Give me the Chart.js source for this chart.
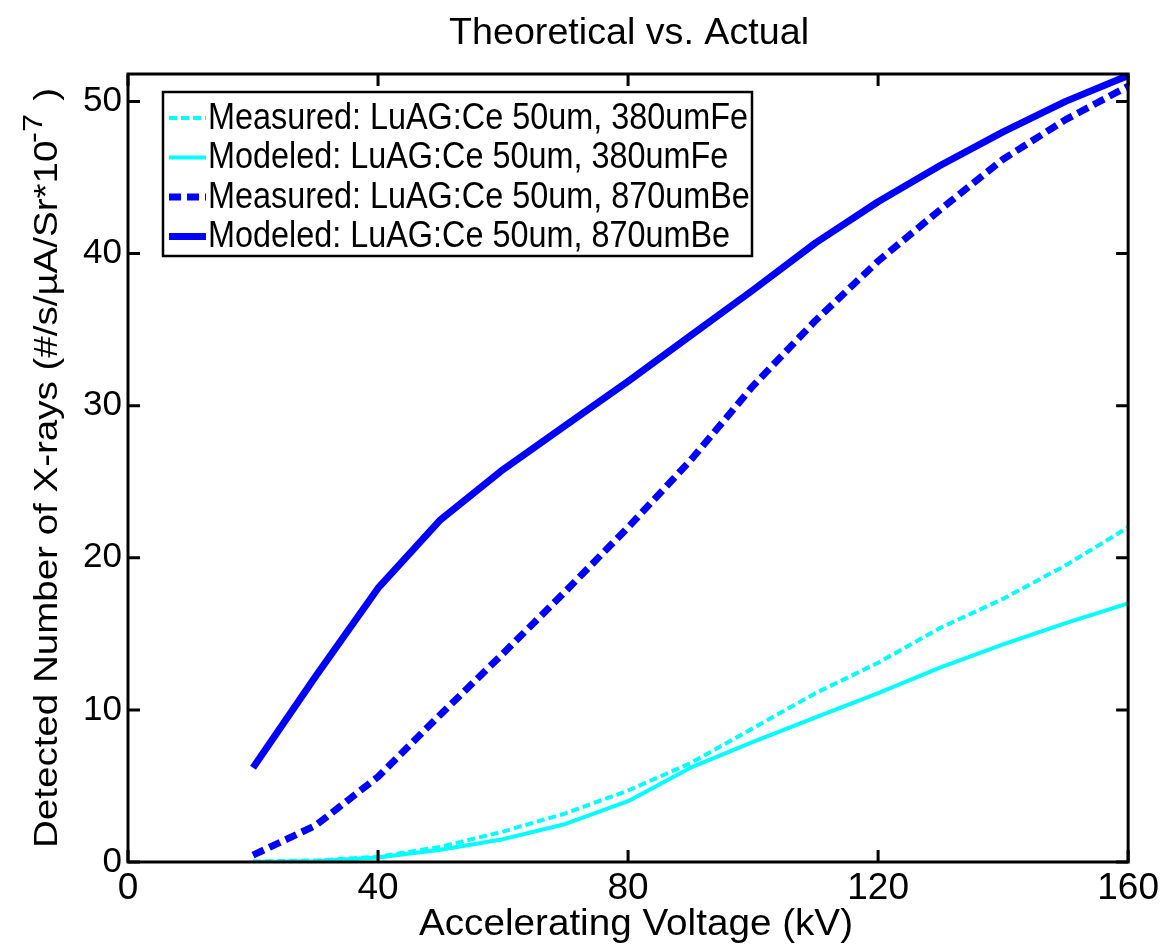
<!DOCTYPE html>
<html><head><meta charset="utf-8">
<script src="https://cdn.jsdelivr.net/npm/chart.js@4"></script>
<style>html,body{margin:0;padding:0;background:#fff;}canvas{display:block;}</style>
</head><body>
<canvas id="c" width="1164" height="947"></canvas>
<script>
// ---- data ----
const voltages   = [20, 30, 40, 50, 60, 70, 80, 90, 100, 110, 120, 130, 140, 150, 160];
const measuredFe = [0.03, 0.1, 0.35, 1.0, 2.0, 3.2, 4.7, 6.5, 8.8, 11.1, 13.1, 15.4, 17.3, 19.5, 22.0];
const modeledFe  = [0.0, 0.05, 0.3, 0.8, 1.5, 2.5, 4.0, 6.2, 7.9, 9.5, 11.1, 12.8, 14.3, 15.7, 17.0];
const measuredBe = [0.45, 2.4, 5.6, 9.7, 13.7, 17.8, 22.0, 26.4, 31.3, 35.6, 39.5, 42.9, 46.2, 48.8, 51.0];
const modeledBe  = [6.2, 12.2, 18.0, 22.5, 25.8, 28.7, 31.6, 34.6, 37.6, 40.7, 43.4, 45.8, 48.0, 50.0, 51.7];
const seriesLabels = [
  'Measured: LuAG:Ce 50um, 380umFe',
  'Modeled: LuAG:Ce 50um, 380umFe',
  'Measured: LuAG:Ce 50um, 870umBe',
  'Modeled: LuAG:Ce 50um, 870umBe'
];
const xTickValues = [0, 40, 80, 120, 160];
const yTickValues = [0, 10, 20, 30, 40, 50];
const titleText = 'Theoretical vs. Actual';
const xTitleText = 'Accelerating Voltage (kV)';
const yTitleMain = 'Detected Number of X-rays (#/s/\u00B5A/Sr*10';
const yTitleSup = '-7';
const yTitleTail = ' )';

const toPts = arr => voltages.map((v, i) => ({x: v, y: arr[i]}));

const CYAN = '#00FFFF', BLUE = '#0000FF';
const datasets = [
  {label: seriesLabels[0], data: toPts(measuredFe), borderColor: CYAN, borderWidth: 4, borderDash: [8, 4]},
  {label: seriesLabels[1], data: toPts(modeledFe),  borderColor: CYAN, borderWidth: 4, borderDash: []},
  {label: seriesLabels[2], data: toPts(measuredBe), borderColor: BLUE, borderWidth: 7, borderDash: [12, 6]},
  {label: seriesLabels[3], data: toPts(modeledBe),  borderColor: BLUE, borderWidth: 7, borderDash: []}
].map(d => Object.assign(d, {pointRadius: 0, tension: 0, fill: false, borderCapStyle: 'butt', borderJoinStyle: 'round'}));

const FONT = '"Liberation Sans", Arial, sans-serif';

function drawFitted(ctx, text, cx, baseline, size, targetW) {
  ctx.save();
  ctx.font = size + 'px ' + FONT;
  const w = ctx.measureText(text).width;
  ctx.translate(cx, baseline);
  ctx.scale(targetW / w, 1);
  ctx.textAlign = 'center';
  ctx.textBaseline = 'alphabetic';
  ctx.fillStyle = '#000';
  ctx.fillText(text, 0, 0);
  ctx.restore();
}

const decor = {
  id: 'decor',
  afterDraw(chart) {
    const {ctx, chartArea: a, scales: {x, y}} = chart;
    ctx.save();
    // axes box
    ctx.strokeStyle = '#000';
    ctx.lineWidth = 3;
    ctx.strokeRect(a.left, a.top, a.right - a.left, a.bottom - a.top);
    // inward tick marks on all four sides
    const tl = 12;
    ctx.beginPath();
    x.ticks.forEach(t => {
      const px = x.getPixelForValue(t.value);
      ctx.moveTo(px, a.bottom); ctx.lineTo(px, a.bottom - tl);
      ctx.moveTo(px, a.top); ctx.lineTo(px, a.top + tl);
    });
    y.ticks.forEach(t => {
      const py = y.getPixelForValue(t.value);
      ctx.moveTo(a.left, py); ctx.lineTo(a.left + tl, py);
      ctx.moveTo(a.right, py); ctx.lineTo(a.right - tl, py);
    });
    ctx.stroke();

    // title and x title
    drawFitted(ctx, titleText, 629, 44, 36, 360);
    drawFitted(ctx, xTitleText, 636, 935, 36, 434);

    // y title (rotated, with superscript)
    ctx.save();
    ctx.translate(57, 468);
    ctx.rotate(-Math.PI / 2);
    ctx.fillStyle = '#000';
    ctx.textBaseline = 'alphabetic';
    ctx.textAlign = 'left';
    const f1 = '33px ' + FONT;
    const f2 = '28px ' + FONT;
    ctx.font = f1; const w1 = ctx.measureText(yTitleMain).width; const w3 = ctx.measureText(yTitleTail).width;
    ctx.font = f2; const w2 = ctx.measureText(yTitleSup).width;
    const total = w1 + w2 + w3;
    ctx.scale(760 / total, 1);
    let x0 = -total / 2;
    ctx.font = f1; ctx.fillText(yTitleMain, x0, 0);
    ctx.font = f2; ctx.fillText(yTitleSup, x0 + w1 - 2, -15);
    ctx.font = f1; ctx.fillText(yTitleTail, x0 + w1 + w2, 0);
    ctx.restore();

    // legend
    const L = 163, T = 92, R = 752, B = 256;
    ctx.fillStyle = '#fff';
    ctx.fillRect(L, T, R - L, B - T);
    ctx.lineWidth = 2.5;
    ctx.strokeStyle = '#000';
    ctx.strokeRect(L, T, R - L, B - T);
    ctx.font = '36px ' + FONT;
    const legScale = 540 / ctx.measureText(chart.data.datasets[0].label).width;
    chart.data.datasets.forEach((d, i) => {
      const ry = 118 + i * 39.5;
      ctx.save();
      ctx.strokeStyle = d.borderColor;
      ctx.lineWidth = d.borderWidth;
      ctx.setLineDash(d.borderDash || []);
      ctx.beginPath();
      ctx.moveTo(169, ry); ctx.lineTo(206, ry);
      ctx.stroke();
      ctx.restore();
      ctx.save();
      ctx.translate(208, ry + 1);
      ctx.scale(legScale, 1);
      ctx.fillStyle = '#000';
      ctx.font = '36px ' + FONT;
      ctx.textAlign = 'left';
      ctx.textBaseline = 'middle';
      ctx.fillText(d.label, 0, 0);
      ctx.restore();
    });
    ctx.restore();
  }
};

new Chart(document.getElementById('c'), {
  type: 'line',
  data: {datasets},
  plugins: [decor],
  options: {
    responsive: false,
    animation: false,
    layout: {padding: {top: 74, right: 33, left: 0, bottom: 0}},
    plugins: {legend: {display: false}, title: {display: false}, tooltip: {enabled: false}},
    scales: {
      x: {
        type: 'linear', min: 0, max: 160,
        afterBuildTicks: s => { s.ticks = xTickValues.map(v => ({value: v})); },
        afterFit: s => { s.height = 85; },
        grid: {display: false, drawTicks: false},
        border: {display: false},
        ticks: {color: '#000', padding: 5, maxRotation: 0, autoSkip: false,
                font: {family: '"Liberation Sans Narrow", "Liberation Sans", Arial', size: 37}}
      },
      y: {
        type: 'linear', min: 0, max: 51.8,
        afterBuildTicks: s => { s.ticks = yTickValues.map(v => ({value: v})); },
        afterFit: s => { s.width = 128; },
        grid: {display: false, drawTicks: false},
        border: {display: false},
        ticks: {color: '#000', padding: 6, autoSkip: false,
                font: {family: '"Liberation Sans", Arial', size: 35}}
      }
    }
  }
});
</script>
</body></html>
